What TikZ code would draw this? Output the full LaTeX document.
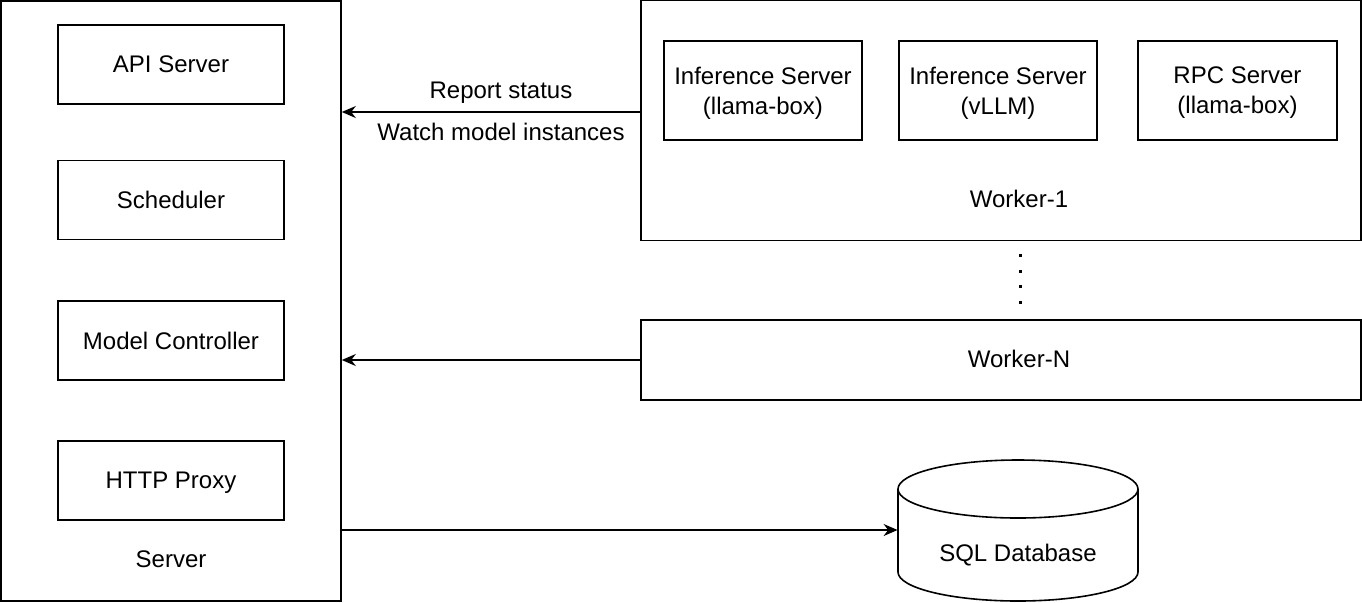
\documentclass[tikz,border=0pt]{standalone}
\usepackage{fontspec}
\setmainfont{Liberation Sans}
\usetikzlibrary{arrows.meta}
\begin{document}
\begin{tikzpicture}[x=0.5pt, y=-0.5pt, font=\fontsize{12}{15}\selectfont,
   box/.style={draw, line width=0.8pt, align=center, inner sep=0pt, text depth=0pt},
   part/.style={box, minimum width=113pt, minimum height=39.5pt},
   arr/.style={-{Stealth[length=7pt,width=6pt]}, line width=0.8pt}]
   \useasboundingbox (0,0) rectangle (1362,602);

   % server side
   \node [box, minimum width=170pt, minimum height=300pt] (server) at (171,301) {};
   \node [part] (api) at (171,64.5) {API Server};
   \node [part] (sched) at (171,200) {Scheduler};
   \node [part] (ctrl) at (171,340.5) {Model Controller};
   \node [part] (proxy) at (171,480.5) {HTTP Proxy};
   \node (srvlabel) at (171,559) {Server};

   % workers
   \node [box, minimum width=360pt, minimum height=120pt] (worker1) at (1001,120.5) {};
   \node [box, minimum width=99pt, minimum height=49.5pt] (inf1) at (763,90.5) {Inference Server\\(llama-box)};
   \node [box, minimum width=99pt, minimum height=49.5pt] (inf2) at (998,90.5) {Inference Server\\(vLLM)};
   \node [box, minimum width=99.5pt, minimum height=49.5pt] (rpc) at (1237.5,90.5) {RPC Server\\(llama-box)};
   \node (w1label) at (1019,199) {Worker-1};
   \foreach \y in {255,271,286,302}
      \fill (1018.5,\y-1.5) rectangle (1021.5,\y+1.5);
   \node [box, minimum width=360pt, minimum height=40pt] (workerN) at (1001,360) {};
   \node (wNlabel) at (1019,359) {Worker-N};

   % database
   \node [minimum width=120pt, minimum height=70pt, inner sep=0pt] (db) at (1018,530) {};
   \draw [line width=0.8pt] (1018,489) ellipse [x radius=120, y radius=29];
   \draw [line width=0.8pt] (898,489) -- (898,572) arc [start angle=180, end angle=0, x radius=120, y radius=29] -- (1138,489);
   \node (dblabel) at (1018,555) {SQL Database};

   % connections
   \coordinate (rep) at (641,112);
   \draw [arr] (rep) -- (server.east |- rep);
   \node (status) at (501,93) {Report status};
   \node (watch) at (501,132) {Watch model instances};
   \draw [arr] (workerN.west) -- (server.east |- workerN.west);
   \draw [arr] (server.east |- db.west) -- (db.west);
\end{tikzpicture}
\end{document}
